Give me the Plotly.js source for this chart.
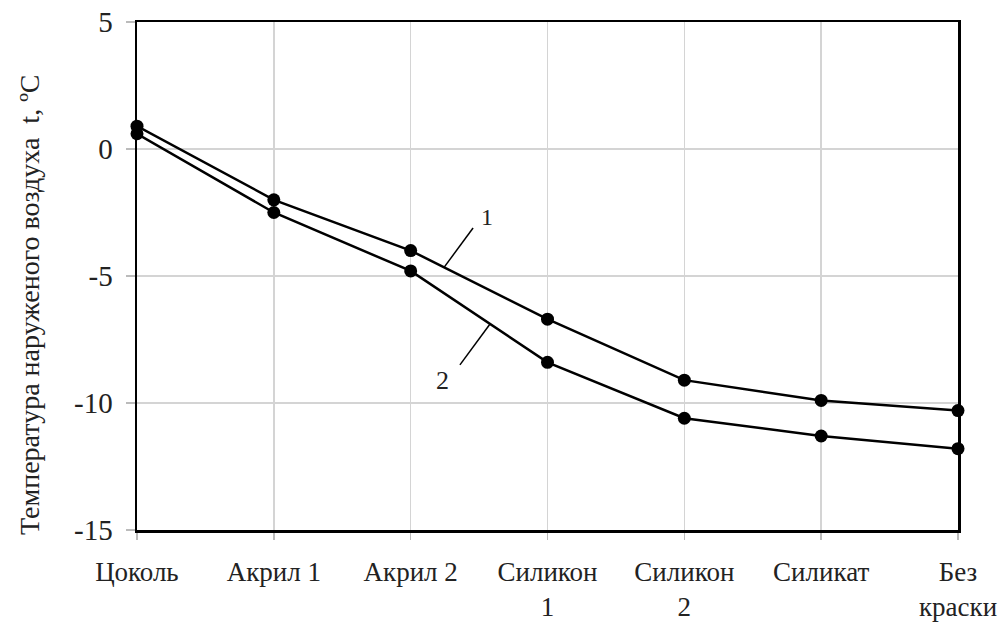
<!DOCTYPE html>
<html>
<head>
<meta charset="utf-8">
<script src="https://cdn.plot.ly/plotly-3.0.1.min.js"></script>
<style>html,body{margin:0;padding:0;background:#fff;}#chart{width:1004px;height:622px;}</style>
</head>
<body>
<div id="chart"></div>
<script>
const categories = ["Цоколь", "Акрил 1", "Акрил 2", "Силикон 1", "Силикон 2", "Силикат", "Без краски"];
const tickLabels = ["Цоколь", "Акрил 1", "Акрил 2", "Силикон<br>1", "Силикон<br>2", "Силикат", "Без<br>краски"];
const series1 = [0.9, -2.0, -4.0, -6.7, -9.1, -9.9, -10.3];
const series2 = [0.6, -2.5, -4.8, -8.4, -10.6, -11.3, -11.8];
const yTicks = [5, 0, -5, -10, -15];
const yTitle = "Температура наруженого воздуха  t, ºC";

const idx = categories.map((c, i) => i);
const fam = "Liberation Serif, Times New Roman, serif";
const font = {family: fam, color: "#222", size: 27};

const mk = (y, name) => ({
  x: idx, y: y, name: name, type: "scatter", mode: "lines+markers",
  line: {color: "#000", width: 2.5},
  marker: {color: "#000", size: 13},
  showlegend: false, cliponaxis: false
});

const layout = {
  width: 1004, height: 622,
  margin: {l: 137, r: 46, t: 22, b: 92},
  paper_bgcolor: "#fff", plot_bgcolor: "#fff",
  font: font,
  xaxis: {
    range: [0, 6], tickmode: "array", tickvals: idx, ticktext: tickLabels,
    showgrid: true, gridcolor: "#d4d4d4", gridwidth: 1.5,
    showline: true, mirror: true, linecolor: "#000", linewidth: 2.5,
    ticks: "outside", ticklen: 7, tickcolor: "#bbb", tickwidth: 1.5,
    tickfont: {family: fam, size: 27, color: "#222"},
    ticklabelstandoff: 9, zeroline: false, fixedrange: true
  },
  yaxis: {
    range: [-15, 5], tickmode: "array", tickvals: yTicks, ticktext: yTicks.map(String),
    showgrid: true, gridcolor: "#d4d4d4", gridwidth: 1.5,
    showline: true, mirror: true, linecolor: "#000", linewidth: 2.5,
    ticks: "outside", ticklen: 9, tickcolor: "#bbb", tickwidth: 1.5,
    tickfont: {family: fam, size: 29, color: "#222"},
    ticklabelstandoff: 7, zeroline: false, fixedrange: true
  },
  shapes: [
    {type: "line", xref: "x", yref: "y", x0: 2.244, y0: -4.66, x1: 2.456, y1: -3.11, line: {color: "#000", width: 1.5}},
    {type: "line", xref: "x", yref: "y", x0: 2.58, y0: -6.89, x1: 2.36, y1: -8.5, line: {color: "#000", width: 1.5}}
  ],
  annotations: [
    {xref: "x", yref: "y", x: 2.558, y: -2.68, text: "1", showarrow: false, font: {family: fam, size: 24, color: "#222"}},
    {xref: "x", yref: "y", x: 2.236, y: -9.13, text: "2", showarrow: false, font: {family: fam, size: 26, color: "#222"}},
    {xref: "paper", yref: "paper", x: -0.1303, y: 0.443, text: yTitle, textangle: -90, showarrow: false,
     xanchor: "center", yanchor: "middle", font: {family: fam, size: 28, color: "#222"}}
  ]
};

Plotly.newPlot("chart", [mk(series1, "1"), mk(series2, "2")], layout, {displayModeBar: false, staticPlot: true});
</script>
</body>
</html>
